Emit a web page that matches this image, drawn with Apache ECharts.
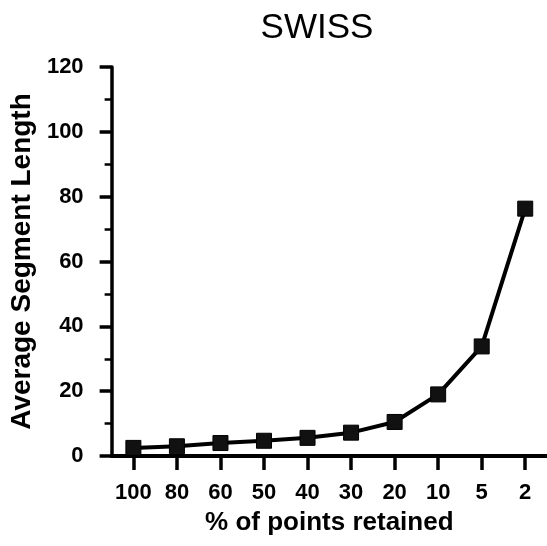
<!DOCTYPE html>
<html>
<head>
<meta charset="utf-8">
<script src="https://cdn.jsdelivr.net/npm/echarts@6/dist/echarts.min.js"></script>
<style>
html,body{margin:0;padding:0;background:#fff;}
#chart{width:547px;height:546px;}
</style>
</head>
<body>
<div id="chart"></div>
<script>
const titleText = "SWISS";
const categories = ["100", "80", "60", "50", "40", "30", "20", "10", "5", "2"];
const avgSegmentLength = [2.5, 3.0, 4.0, 4.7, 5.6, 7.2, 10.5, 19.0, 33.8, 76.3];
const yTicks = { min: 0, max: 120, interval: 20 };
const xName = "% of points retained";
const yName = "Average Segment Length";

const FONT = "Liberation Sans, Arial, Helvetica, sans-serif";
const chart = echarts.init(document.getElementById('chart'), null, { renderer: 'canvas' });
chart.setOption({
  animation: false,
  backgroundColor: '#fff',
  title: {
    text: titleText,
    left: 312,
    textAlign: 'center',
    top: 6,
    textStyle: { fontFamily: FONT, fontSize: 35, fontWeight: 'normal', color: '#000' }
  },
  grid: { left: 108, right: -1, top: 67, bottom: 90, containLabel: false },
  xAxis: {
    type: 'category',
    data: categories,
    boundaryGap: true,
    name: xName,
    nameLocation: 'middle',
    nameGap: 54,
    nameTextStyle: { fontFamily: FONT, fontSize: 26, fontWeight: 'bold', color: '#000' },
    axisLine: { show: true, lineStyle: { color: '#000', width: 4 } },
    axisTick: { show: true, inside: false, alignWithLabel: true, interval: 0, length: 14, lineStyle: { color: '#000', width: 3.5 } },
    axisLabel: { interval: 0, hideOverlap: false, margin: 26, fontFamily: FONT, fontSize: 22, fontWeight: 'bold', color: '#000' },
    splitLine: { show: false }
  },
  yAxis: {
    type: 'value',
    min: yTicks.min,
    max: yTicks.max,
    interval: yTicks.interval,
    name: yName,
    nameLocation: 'middle',
    nameRotate: 90,
    nameGap: 72,
    nameTextStyle: { fontFamily: FONT, fontSize: 28, fontWeight: 'bold', color: '#000' },
    axisLine: { show: true, lineStyle: { color: '#000', width: 3.5 } },
    axisTick: { show: true, inside: false, length: 12, lineStyle: { color: '#000', width: 3.5 } },
    minorTick: { show: true, splitNumber: 2, length: 7, lineStyle: { color: '#000', width: 2.5 } },
    axisLabel: { margin: 28, fontFamily: FONT, fontSize: 22, fontWeight: 'bold', color: '#000' },
    splitLine: { show: false }
  },
  series: [{
    type: 'line',
    data: avgSegmentLength,
    smooth: false,
    symbol: 'rect',
    symbolSize: 15,
    lineStyle: { color: '#000', width: 4 },
    itemStyle: { color: '#111', borderColor: '#000', borderWidth: 1 }
  }]
});
</script>
</body>
</html>
